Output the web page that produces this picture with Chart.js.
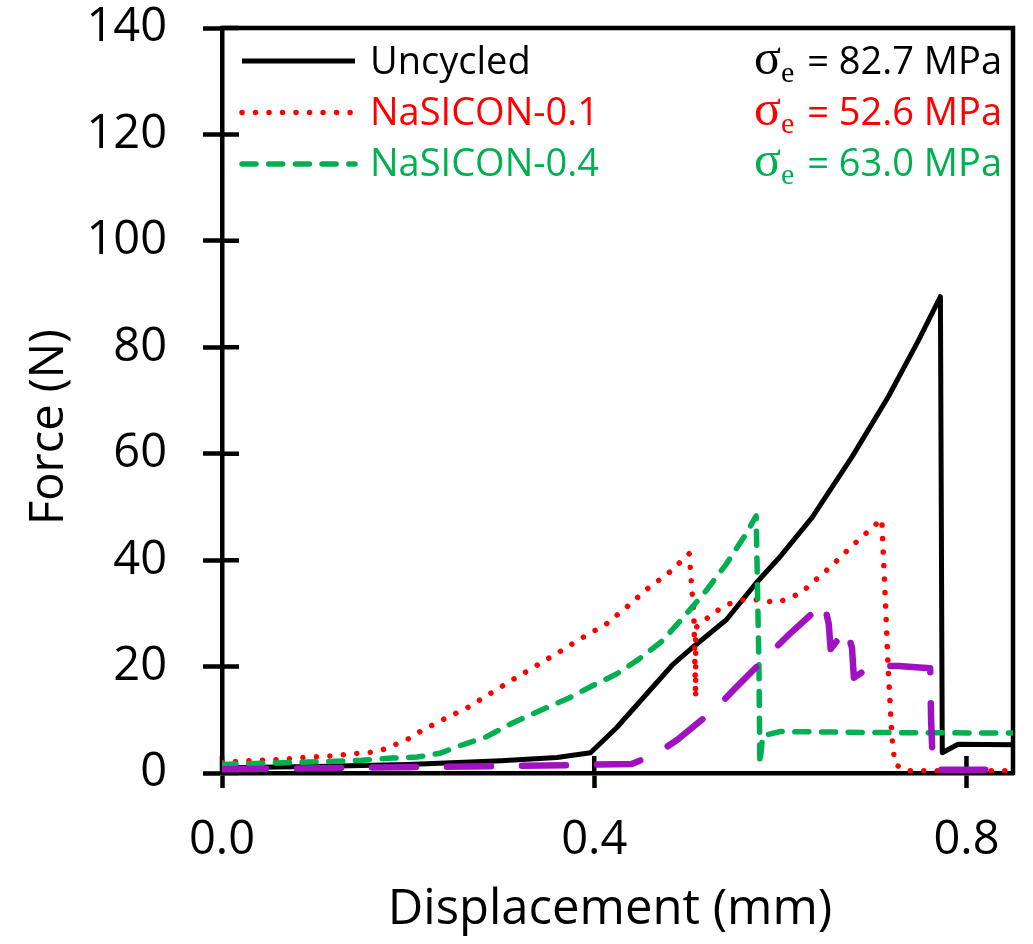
<!DOCTYPE html>
<html>
<head>
<meta charset="utf-8">
<script src="https://cdn.jsdelivr.net/npm/chart.js@4.4.1/dist/chart.umd.min.js"></script>
<style>
html,body{margin:0;padding:0;background:#fff;}
#wrap{width:1033px;height:944px;}
</style>
</head>
<body>
<div id="wrap"><canvas id="c" width="1033" height="944"></canvas></div>
<script>
// ---- axis ticks ----
const xTicks = [0, 0.4, 0.8];
const yTicks = [0, 20, 40, 60, 80, 100, 120, 140];
const xTitle = 'Displacement (mm)';
const yTitle = 'Force (N)';

// ---- series names / annotations ----
const seriesNames = ['Uncycled', 'NaSICON-0.1', 'NaSICON-0.4', ''];
const stressValues = [82.7, 52.6, 63.0];

// ---- Uncycled (black) ----
const uncycledX = [0, 0.1, 0.2, 0.3, 0.36, 0.396, 0.424, 0.456, 0.484, 0.505, 0.542, 0.574, 0.598, 0.634, 0.677, 0.716, 0.749, 0.772, 0.774, 0.791, 0.85];
const uncycledY = [1.0, 1.2, 1.6, 2.3, 2.9, 3.8, 8.5, 14.8, 20.3, 23.5, 28.8, 35.7, 40.3, 48.0, 59.4, 70.7, 81.5, 89.5, 3.8, 5.4, 5.3];

// ---- NaSICON-0.1 (red dotted) ----
const nas01X = [0, 0.03, 0.059, 0.087, 0.116, 0.146, 0.161, 0.173, 0.187, 0.2, 0.212, 0.225, 0.237, 0.251, 0.263, 0.287, 0.312, 0.339, 0.362, 0.387, 0.413, 0.435, 0.457, 0.48, 0.502, 0.507, 0.509, 0.509, 0.52, 0.532, 0.545, 0.558, 0.569, 0.584, 0.598, 0.622, 0.634, 0.655, 0.676, 0.698, 0.709, 0.713, 0.716, 0.72, 0.723, 0.735, 0.85];
const nas01Y = [2.0, 2.3, 2.5, 2.9, 3.2, 3.7, 3.9, 4.4, 5.4, 6.4, 7.7, 8.9, 10.0, 11.2, 12.2, 14.8, 17.5, 20.3, 22.7, 25.4, 28.0, 31.2, 34.6, 37.6, 41.2, 30.0, 14.1, 27.3, 28.9, 30.5, 31.8, 32.5, 32.7, 32.3, 32.1, 33.8, 35.7, 38.9, 42.5, 46.0, 47.7, 31.8, 19.2, 6.6, 1.7, 0.4, 0.4];

// ---- NaSICON-0.4 (green dashed) ----
const nas04X = [0, 0.06, 0.12, 0.15, 0.183, 0.21, 0.234, 0.255, 0.284, 0.312, 0.348, 0.373, 0.398, 0.424, 0.448, 0.473, 0.499, 0.52, 0.542, 0.563, 0.574, 0.577, 0.578, 0.581, 0.6, 0.7, 0.85];
const nas04Y = [1.6, 1.9, 2.2, 2.4, 2.8, 3.0, 3.7, 5.1, 6.8, 9.4, 12.2, 14.1, 16.4, 18.6, 21.4, 24.8, 29.9, 34.2, 39.3, 44.9, 48.3, 20.0, 1.7, 7.0, 7.8, 7.6, 7.5];

// ---- unlabeled (purple long dash) ----
const purpleX = [0, 0.1, 0.2, 0.3, 0.38, 0.44, 0.466, 0.489, 0.531, 0.552, 0.59, 0.611, 0.647, 0.652, 0.654, 0.671, 0.677, 0.679, 0.698, 0.727, 0.761, 0.762, 0.764, 0.85];
const purpleY = [0.7, 0.9, 1.1, 1.3, 1.5, 1.7, 3.5, 6.2, 12.2, 16.0, 22.7, 26.3, 32.0, 28.0, 23.3, 27.1, 23.5, 17.9, 20.1, 20.1, 19.7, 10.0, 0.6, 0.6];

const FONT = "'Open Sans', 'DejaVu Sans', sans-serif";
const SERIF = "'Liberation Serif', 'DejaVu Serif', serif";
const toPts = (xs, ys) => xs.map((x, i) => ({ x: x, y: ys[i] }));

const decor = {
  id: 'decor',
  beforeDatasetsDraw(chart) {
    const { ctx, chartArea: a, scales: { x, y } } = chart;
    ctx.save();
    ctx.strokeStyle = '#000';
    ctx.lineCap = 'butt';
    ctx.lineWidth = 4.5;
    ctx.beginPath();
    ctx.moveTo(a.left - 2, a.top);
    ctx.lineTo(a.right, a.top);
    ctx.lineTo(a.right, a.bottom + 2);
    ctx.stroke();
    ctx.beginPath();
    yTicks.forEach(v => { const p = y.getPixelForValue(v); ctx.moveTo(a.left, p); ctx.lineTo(a.left + 17, p); });
    xTicks.forEach(v => { const p = x.getPixelForValue(v); ctx.moveTo(p, a.bottom); ctx.lineTo(p, a.bottom - 17); });
    ctx.stroke();
    ctx.restore();
  },
  afterDraw(chart) {
    const { ctx } = chart;
    ctx.save();
    // axis titles
    ctx.fillStyle = '#000';
    ctx.textAlign = 'center';
    ctx.textBaseline = 'middle';
    ctx.font = '49px ' + FONT;
    ctx.fillText(xTitle, 610, 910);
    ctx.save();
    ctx.translate(50, 427);
    ctx.rotate(-Math.PI / 2);
    ctx.font = '47px ' + FONT;
    ctx.fillText(yTitle, 0, 0);
    ctx.restore();

    // legend (first three datasets)
    const rowsLine = [61, 112.5, 164];
    const rowsBase = [74, 125, 176];
    for (let i = 0; i < 3; i++) {
      const ds = chart.data.datasets[i];
      ctx.save();
      ctx.strokeStyle = ds.borderColor;
      ctx.lineWidth = ds.borderWidth;
      ctx.lineCap = ds.borderCapStyle || 'butt';
      ctx.setLineDash(ds.borderDash || []);
      ctx.beginPath();
      ctx.moveTo(242, rowsLine[i]);
      ctx.lineTo(355, rowsLine[i]);
      ctx.stroke();
      ctx.restore();
      ctx.fillStyle = ds.borderColor;
      ctx.textAlign = 'left';
      ctx.textBaseline = 'alphabetic';
      ctx.font = '38px ' + FONT;
      ctx.fillText(ds.label, 370, rowsBase[i]);

      // stress annotation, right aligned
      const right = 1002;
      const txt = '= ' + stressValues[i].toFixed(1) + ' MPa';
      ctx.font = '38px ' + FONT;
      const w = ctx.measureText(txt).width;
      ctx.textAlign = 'right';
      ctx.fillText(txt, right, rowsBase[i]);
      let xs = right - w - 13;
      ctx.font = '30px ' + SERIF;
      const we = ctx.measureText('e').width;
      ctx.fillText('e', xs, rowsBase[i] + 8);
      xs -= we;
      ctx.font = '50px ' + SERIF;
      ctx.fillText('\u03C3', xs, rowsBase[i]);
    }
    ctx.restore();
  }
};

Chart.defaults.font.family = FONT;
Chart.defaults.color = '#000';

new Chart(document.getElementById('c'), {
  type: 'line',
  data: {
    datasets: [
      { label: seriesNames[0], data: toPts(uncycledX, uncycledY), borderColor: '#000000', borderWidth: 5, borderCapStyle: 'butt', order: 3 },
      { label: seriesNames[1], data: toPts(nas01X, nas01Y), borderColor: '#FF0000', borderWidth: 5.5, borderDash: [0.01, 13.5], borderCapStyle: 'round', order: 2 },
      { label: seriesNames[2], data: toPts(nas04X, nas04Y), borderColor: '#00B050', borderWidth: 5.5, borderDash: [14, 12.7], borderCapStyle: 'round', order: 1 },
      { label: seriesNames[3], data: toPts(purpleX, purpleY), borderColor: '#A012C0', borderWidth: 6.5, borderDash: [44, 31], borderCapStyle: 'round', order: 0 }
    ]
  },
  options: {
    responsive: false,
    animation: false,
    devicePixelRatio: 1,
    elements: { point: { radius: 0 }, line: { tension: 0, borderJoinStyle: 'round', fill: false } },
    layout: { padding: { top: 28, right: 20, left: 0, bottom: 0 } },
    plugins: { legend: { display: false }, tooltip: { enabled: false } },
    scales: {
      x: {
        type: 'linear', min: 0, max: 0.85,
        afterBuildTicks: s => { s.ticks = xTicks.map(v => ({ value: v })); },
        afterFit: s => { s.height = 171; s.paddingLeft = 0; s.paddingRight = 0; },
        ticks: { font: { size: 47 }, color: '#000', padding: 24, maxRotation: 0, callback: v => Number(v).toFixed(1) },
        grid: { display: true, drawOnChartArea: false, drawTicks: true, tickLength: 15, tickWidth: 4.5, tickColor: '#000' },
        border: { display: true, color: '#000', width: 4.5 }
      },
      y: {
        type: 'linear', min: 0, max: 140,
        afterBuildTicks: s => { s.ticks = yTicks.map(v => ({ value: v })); },
        afterFit: s => { s.width = 222; s.paddingTop = 0; s.paddingBottom = 0; },
        ticks: { font: { size: 47 }, color: '#000', padding: 36, callback: v => String(v) },
        grid: { display: true, drawOnChartArea: false, drawTicks: true, tickLength: 19, tickWidth: 4.5, tickColor: '#000' },
        border: { display: true, color: '#000', width: 4.5 }
      }
    }
  },
  plugins: [decor]
});
</script>
</body>
</html>
